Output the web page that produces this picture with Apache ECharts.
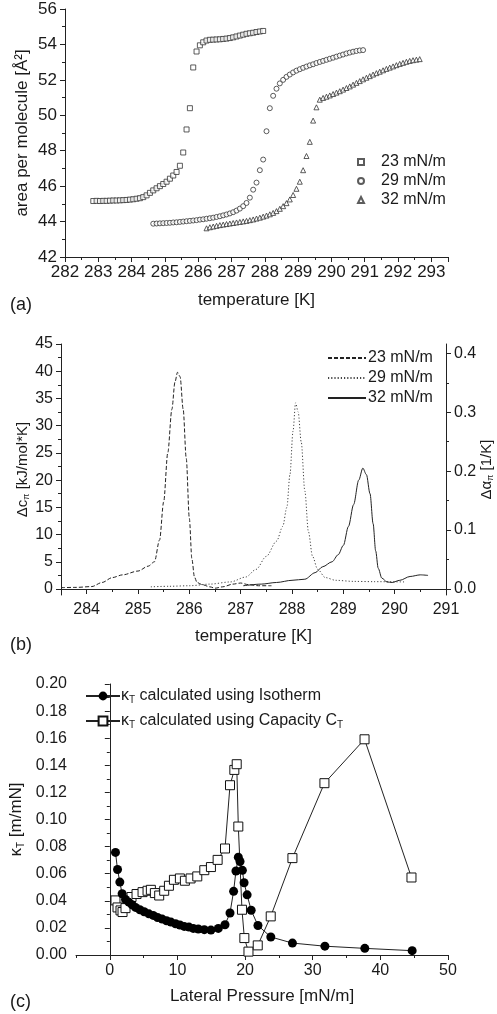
<!DOCTYPE html>
<html><head><meta charset="utf-8">
<script src="https://cdn.jsdelivr.net/npm/echarts@6/dist/echarts.min.js"></script>
<style>html,body{margin:0;padding:0;background:#fff}#c{width:497px;height:1014px}</style>
</head><body><div id="c"></div>
<script>
// ---------- Panel (a): isotherms, area per molecule vs temperature ----------
const a23T = [282.85,282.95,283.05,283.15,283.25,283.35,283.45,283.55,283.65,283.75,283.85,283.95,284.05,284.15,284.25,284.35,284.45,284.55,284.65,284.75,284.85,284.95,285.05,285.15,285.25,285.35,285.45,285.55,285.65,285.75,285.85,285.95,286.05,286.15,286.25,286.35,286.45,286.55,286.65,286.75,286.85,286.95,287.05,287.15,287.25,287.35,287.45,287.55,287.65,287.75,287.85,287.95];
const a23A = [45.16,45.17,45.16,45.17,45.17,45.18,45.19,45.19,45.20,45.21,45.22,45.24,45.26,45.29,45.32,45.38,45.48,45.62,45.76,45.88,46.00,46.12,46.25,46.42,46.60,46.80,47.15,47.90,49.20,50.40,52.70,53.60,53.95,54.12,54.22,54.26,54.27,54.28,54.29,54.31,54.33,54.36,54.40,54.45,54.50,54.55,54.60,54.63,54.66,54.70,54.73,54.76];
const a29T = [284.65,284.75,284.85,284.95,285.05,285.15,285.25,285.35,285.45,285.55,285.65,285.75,285.85,285.95,286.05,286.15,286.25,286.35,286.45,286.55,286.65,286.75,286.85,286.95,287.05,287.15,287.25,287.35,287.45,287.55,287.65,287.75,287.85,287.95,288.05,288.15,288.25,288.35,288.45,288.55,288.65,288.75,288.85,288.95,289.05,289.15,289.25,289.35,289.45,289.55,289.65,289.75,289.85,289.95,290.05,290.15,290.25,290.35,290.45,290.55,290.65,290.75,290.85,290.95];
const a29A = [43.88,43.89,43.90,43.91,43.92,43.93,43.95,43.96,43.98,44.00,44.02,44.04,44.06,44.08,44.11,44.13,44.16,44.19,44.22,44.26,44.30,44.35,44.40,44.46,44.53,44.62,44.73,44.87,45.05,45.35,45.80,46.20,46.90,47.50,49.10,50.40,51.10,51.50,51.80,52.00,52.17,52.30,52.42,52.52,52.60,52.68,52.75,52.82,52.88,52.95,53.01,53.07,53.13,53.19,53.25,53.31,53.37,53.43,53.49,53.54,53.59,53.63,53.66,53.68];
const a32T = [286.25,286.35,286.45,286.55,286.65,286.75,286.85,286.95,287.05,287.15,287.25,287.35,287.45,287.55,287.65,287.75,287.85,287.95,288.05,288.15,288.25,288.35,288.45,288.55,288.65,288.75,288.85,288.95,289.05,289.15,289.25,289.35,289.45,289.55,289.65,289.75,289.85,289.95,290.05,290.15,290.25,290.35,290.45,290.55,290.65,290.75,290.85,290.95,291.05,291.15,291.25,291.35,291.45,291.55,291.65,291.75,291.85,291.95,292.05,292.15,292.25,292.35,292.45,292.55,292.65];
const a32A = [43.62,43.68,43.72,43.76,43.80,43.83,43.86,43.89,43.92,43.95,43.98,44.01,44.04,44.08,44.12,44.17,44.22,44.28,44.34,44.41,44.49,44.59,44.72,44.87,45.04,45.25,45.50,45.85,46.25,46.90,47.70,48.50,49.70,50.45,50.88,50.98,51.05,51.12,51.20,51.28,51.36,51.45,51.54,51.63,51.73,51.83,51.93,52.03,52.12,52.21,52.30,52.38,52.46,52.54,52.62,52.69,52.76,52.83,52.90,52.96,53.02,53.07,53.11,53.14,53.17];

// ---------- Panel (b): heat capacity curves ----------
const b23T = [283.5,283.8,284.1,284.3,284.5,284.7,285.0,285.2,285.32,285.42,285.5,285.58,285.66,285.72,285.77,285.82,285.88,285.94,286.0,286.05,286.1,286.15,286.25,286.4,286.5,286.65,286.85,287.0,287.15,287.35,287.6];
const b23C = [0.25,0.3,0.45,1.2,2.1,2.6,3.3,4.2,5.0,9,16,25,33,38,39.8,39,33,24,13,5.5,2.2,1.2,0.8,0.4,0.15,0.4,0.9,1.1,0.8,0.6,0.6];
const b29T = [285.25,285.6,286.0,286.4,286.8,287.1,287.3,287.5,287.7,287.82,287.9,287.96,288.02,288.07,288.12,288.18,288.25,288.32,288.4,288.5,288.65,288.85,289.2,289.6,290.2];
const b29C = [0.4,0.5,0.6,0.9,1.3,2.2,3.6,6.0,8.8,11.5,15,21,29,34.2,32.5,27,18,10.5,6,3.6,2.1,1.6,1.4,1.35,1.3];
const b32T = [287.05,287.4,287.7,288.0,288.25,288.45,288.6,288.78,288.9,289.0,289.1,289.2,289.3,289.38,289.45,289.52,289.58,289.63,289.68,289.75,289.85,289.95,290.1,290.3,290.5,290.65];
const b32C = [0.6,0.9,1.2,1.6,1.8,3.0,4.1,5.0,6.3,8.0,11.5,15.5,20,22.2,21,17.5,12,7,3.8,2.0,1.3,1.2,1.6,2.3,2.6,2.5];

// ---------- Panel (c): compressibility vs lateral pressure ----------
const cIsoP = [0.84,1.14,1.48,1.82,2.32,2.81,3.3,3.8,4.44,5.08,5.77,6.42,7.06,7.74,8.39,9.03,9.72,10.36,11.0,11.7,12.34,13.08,13.97,14.95,16.04,17.03,17.77,18.3,18.65,19.0,19.25,19.6,19.85,20.3,20.9,21.9,23.8,27.0,31.8,37.7,44.7];
const cIsoK = [0.0757,0.0631,0.0538,0.0452,0.0410,0.0390,0.0371,0.0351,0.0334,0.0319,0.0304,0.0292,0.0277,0.0265,0.0253,0.0243,0.0231,0.0221,0.0211,0.0206,0.0196,0.0192,0.0187,0.0184,0.0196,0.0223,0.0310,0.0470,0.0620,0.0722,0.0690,0.0625,0.0533,0.0444,0.0330,0.0218,0.0133,0.0088,0.0065,0.0049,0.0032];
const cCapP = [0.84,1.14,1.58,1.88,2.32,3.21,3.95,4.84,5.58,6.07,6.66,7.3,8.04,8.74,9.48,10.36,11.1,11.94,12.93,13.97,14.95,15.94,17.03,17.77,18.41,18.76,19.0,19.54,19.89,20.5,21.87,23.79,27.0,31.73,37.66,44.6];
const cCapK = [0.0403,0.0351,0.0329,0.0317,0.0346,0.0428,0.0450,0.0464,0.0474,0.0481,0.0457,0.0439,0.0474,0.0511,0.0555,0.0565,0.0548,0.0565,0.0580,0.0626,0.0649,0.0702,0.0786,0.1253,0.1366,0.1408,0.0948,0.0334,0.0125,0.0025,0.0071,0.0285,0.0715,0.1268,0.1592,0.0572];

// tick label lists
const bXLabels = [284,285,286,287,288,289,290,291];
const bXMinor = [283.5,284.5,285.5,286.5,287.5,288.5,289.5,290.5];
const bYLabels = [0,5,10,15,20,25,30,35,40,45];
const bYMinor = [2.5,7.5,12.5,17.5,22.5,27.5,32.5,37.5,42.5];
const bRLabels = [0,0.1,0.2,0.3,0.4];
const bRMinor = [0.05,0.15,0.25,0.35];
const cXLabels = [0,10,20,30,40,50];
const cXMinor = [-5,5,15,25,35,45];

const legendNames = {
  a23:'23 mN/m', a29:'29 mN/m', a32:'32 mN/m',
  b23:'23 mN/m', b29:'29 mN/m', b32:'32 mN/m',
  cIso:'{k|κ}{s|T}{t| calculated using Isotherm}',
  cCap:'{k|κ}{s|T}{t| calculated using Capacity C}{s|T}'
};

const zip = (xs, ys) => xs.map((x, i) => [x, ys[i]]);
const FONT = '"Liberation Sans", Arial, sans-serif';
const TXT = '#1a1a1a';
const LINE = '#222';
const axLine = {show:true, lineStyle:{color:LINE, width:1}};
const lbl = (extra) => Object.assign({color:TXT, fontFamily:FONT, fontSize:16}, extra||{});
const nameStyle = {color:TXT, fontFamily:FONT, fontSize:17};

const chart = echarts.init(document.getElementById('c'), null, {renderer:'canvas'});

const option = {
  backgroundColor:'#fff',
  animation:false,
  title:[
    {text:'(a)', left:5, top:291, textStyle:{fontFamily:FONT, fontSize:18, fontWeight:'normal', color:TXT}},
    {text:'(b)', left:5, top:631, textStyle:{fontFamily:FONT, fontSize:18, fontWeight:'normal', color:TXT}},
    {text:'(c)', left:5, top:988, textStyle:{fontFamily:FONT, fontSize:18, fontWeight:'normal', color:TXT}}
  ],
  grid:[
    {left:65, top:9, width:383, height:248, outerBoundsMode:'none', containLabel:false},
    {left:61, top:344, width:385, height:251, outerBoundsMode:'none', containLabel:false},
    {left:76, top:684, width:372, height:271, outerBoundsMode:'none', containLabel:false}
  ],
  legend:[
    {data:['a23','a29','a32'], orient:'vertical', left:352, top:149, itemWidth:6, itemHeight:6, itemGap:3,
     formatter:n=>legendNames[n], textStyle:lbl({padding:[0,0,0,12], lineHeight:16})},
    {data:['b23','b29','b32'], orient:'vertical', left:322, top:345, itemWidth:38, itemHeight:10, itemGap:4,
     itemStyle:{color:'rgba(0,0,0,0)', borderColor:'rgba(0,0,0,0)', borderWidth:0, opacity:0},
     formatter:n=>legendNames[n], textStyle:lbl({padding:[0,0,0,-3], lineHeight:16})},
    {data:['cIso','cCap'], orient:'vertical', left:80, top:683, itemWidth:34, itemHeight:11, itemGap:8,
     formatter:n=>legendNames[n],
     textStyle:{color:TXT, fontFamily:FONT, fontSize:16, padding:[0,0,0,-4],
       rich:{k:{fontFamily:FONT, fontSize:16, color:TXT}, s:{fontFamily:FONT, fontSize:10, color:TXT, padding:[8,0,0,0]}, t:{fontFamily:FONT, fontSize:16, color:TXT}}}}
  ],
  xAxis:[
    {gridIndex:0, type:'value', min:282, max:293.5, interval:1, axisLine:axLine,
     axisTick:{show:true, length:5, lineStyle:{color:LINE}}, minorTick:{show:true, splitNumber:2, length:3, lineStyle:{color:LINE}},
     splitLine:{show:false}, axisLabel:lbl({margin:7, fontSize:17, showMaxLabel:false}),
     name:'temperature [K]', nameLocation:'middle', nameGap:35, nameTextStyle:nameStyle},
    {gridIndex:1, type:'value', min:283.5, max:291, axisLine:axLine,
     axisTick:{show:true, length:5, customValues:bXLabels, lineStyle:{color:LINE}},
     splitLine:{show:false}, axisLabel:lbl({margin:7, customValues:bXLabels}),
     name:'temperature [K]', nameLocation:'middle', nameGap:33, nameTextStyle:nameStyle},
    {gridIndex:1, type:'value', min:283.5, max:291, position:'bottom', axisLine:{show:false},
     axisTick:{show:true, length:3, customValues:bXMinor, lineStyle:{color:LINE}},
     splitLine:{show:false}, axisLabel:{show:false}},
    {gridIndex:2, type:'value', min:-5, max:50, axisLine:axLine,
     axisTick:{show:true, length:5, customValues:cXLabels, lineStyle:{color:LINE}},
     splitLine:{show:false}, axisLabel:lbl({margin:8, customValues:cXLabels}),
     name:'Lateral Pressure [mN/m]', nameLocation:'middle', nameGap:33, nameTextStyle:nameStyle},
    {gridIndex:2, type:'value', min:-5, max:50, position:'bottom', axisLine:{show:false},
     axisTick:{show:true, length:3, customValues:cXMinor, lineStyle:{color:LINE}},
     splitLine:{show:false}, axisLabel:{show:false}}
  ],
  yAxis:[
    {gridIndex:0, type:'value', min:42, max:56, interval:2, axisLine:axLine,
     axisTick:{show:true, length:5, lineStyle:{color:LINE}}, minorTick:{show:true, splitNumber:2, length:3, lineStyle:{color:LINE}},
     splitLine:{show:false}, axisLabel:lbl({margin:8, fontSize:17}),
     name:'area per molecule [Å²]', nameLocation:'middle', nameRotate:90, nameGap:34, nameMoveOverlap:false, nameTextStyle:nameStyle},
    {gridIndex:1, type:'value', min:-1.1, max:45, position:'left', axisLine:axLine,
     axisTick:{show:true, length:5, customValues:bYLabels, lineStyle:{color:LINE}},
     splitLine:{show:false}, axisLabel:lbl({margin:8, customValues:bYLabels}),
     name:'{d|Δc}{s|π}{d| [kJ/mol*K]}', nameLocation:'middle', nameRotate:90, nameGap:30, nameMoveOverlap:false,
     nameTextStyle:{color:TXT, fontFamily:FONT, fontSize:15,
       rich:{d:{fontFamily:FONT, fontSize:15, color:TXT}, s:{fontFamily:FONT, fontSize:9, color:TXT, padding:[8,0,0,0]}}}},
    {gridIndex:1, type:'value', min:-1.1, max:45, position:'left', axisLine:{show:false},
     axisTick:{show:true, length:3, customValues:bYMinor, lineStyle:{color:LINE}},
     splitLine:{show:false}, axisLabel:{show:false}},
    {gridIndex:1, type:'value', min:-0.0102, max:0.4158, position:'right', axisLine:axLine,
     axisTick:{show:true, length:5, customValues:bRLabels, lineStyle:{color:LINE}},
     splitLine:{show:false}, axisLabel:lbl({margin:8, customValues:bRLabels, formatter:v=>v.toFixed(1)}),
     name:'{d|Δα}{s|π}{d| [1/K]}', nameLocation:'middle', nameRotate:90, nameGap:32, nameMoveOverlap:false,
     nameTextStyle:{color:TXT, fontFamily:FONT, fontSize:15,
       rich:{d:{fontFamily:FONT, fontSize:15, color:TXT}, s:{fontFamily:FONT, fontSize:9, color:TXT, padding:[8,0,0,0]}}}},
    {gridIndex:1, type:'value', min:-0.0102, max:0.4158, position:'right', axisLine:{show:false},
     axisTick:{show:true, length:3, customValues:bRMinor, lineStyle:{color:LINE}},
     splitLine:{show:false}, axisLabel:{show:false}},
    {gridIndex:2, type:'value', min:0, max:0.2, interval:0.02, axisLine:axLine,
     axisTick:{show:true, length:5, lineStyle:{color:LINE}}, minorTick:{show:true, splitNumber:2, length:3, lineStyle:{color:LINE}},
     splitLine:{show:false}, axisLabel:lbl({margin:9, formatter:v=>v.toFixed(2)}),
     name:'{k|κ}{s|T}{k| [m/mN]}', nameLocation:'middle', nameRotate:90, nameGap:50, nameMoveOverlap:false,
     nameTextStyle:{color:TXT, fontFamily:FONT, fontSize:17,
       rich:{k:{fontFamily:FONT, fontSize:17, color:TXT}, s:{fontFamily:FONT, fontSize:10, color:TXT, padding:[9,0,0,0]}}}}
  ],
  series:[
    {name:'a23', type:'scatter', xAxisIndex:0, yAxisIndex:0, data:zip(a23T,a23A), symbol:'rect', symbolSize:5,
     itemStyle:{color:'#fff', borderColor:'#333', borderWidth:1}},
    {name:'a29', type:'scatter', xAxisIndex:0, yAxisIndex:0, data:zip(a29T,a29A), symbol:'circle', symbolSize:5,
     itemStyle:{color:'#fff', borderColor:'#333', borderWidth:1}},
    {name:'a32', type:'scatter', xAxisIndex:0, yAxisIndex:0, data:zip(a32T,a32A), symbol:'triangle', symbolSize:5,
     itemStyle:{color:'#fff', borderColor:'#333', borderWidth:1}},
    {name:'b23', type:'line', xAxisIndex:1, yAxisIndex:1, data:zip(b23T,b23C), smooth:0.3, smoothMonotone:'x', symbol:'none',
     lineStyle:{color:LINE, width:1, type:[4,2]}, itemStyle:{color:LINE}},
    {name:'b29', type:'line', xAxisIndex:1, yAxisIndex:1, data:zip(b29T,b29C), smooth:0.3, smoothMonotone:'x', symbol:'none',
     lineStyle:{color:'#444', width:1, type:[1.2,2]}, itemStyle:{color:'#444'}},
    {name:'b32', type:'line', xAxisIndex:1, yAxisIndex:1, data:zip(b32T,b32C), smooth:0.3, smoothMonotone:'x', symbol:'none',
     lineStyle:{color:LINE, width:1, type:'solid'}, itemStyle:{color:LINE}},
    {name:'cCap', type:'line', xAxisIndex:3, yAxisIndex:5, data:zip(cCapP,cCapK), symbol:'rect', symbolSize:9, showSymbol:true,
     lineStyle:{color:LINE, width:1}, itemStyle:{color:'#fff', borderColor:'#111', borderWidth:1}},
    {name:'cIso', type:'line', xAxisIndex:3, yAxisIndex:5, data:zip(cIsoP,cIsoK), symbol:'circle', symbolSize:9, showSymbol:true,
     lineStyle:{color:LINE, width:1}, itemStyle:{color:'#000'}}
  ]
};
chart.setOption(option);
</script>
</body></html>
